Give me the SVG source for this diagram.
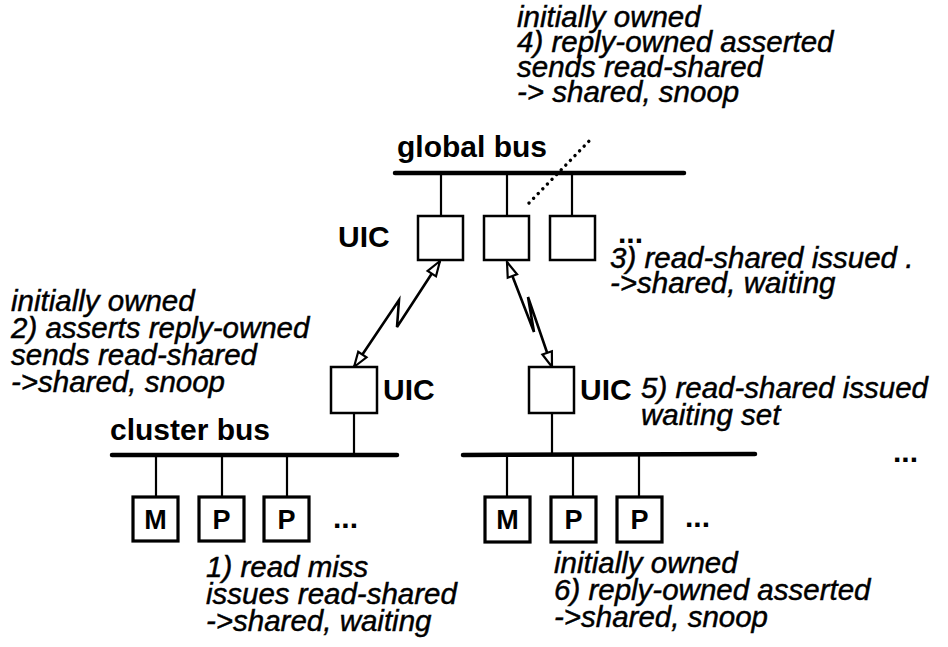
<svg xmlns="http://www.w3.org/2000/svg" width="948" height="647" viewBox="0 0 948 647">
  <style>
    .note { font-family: "Liberation Sans", Arial, Helvetica, sans-serif; font-style: italic; font-size: 29.5px; fill: #000; stroke: #000; stroke-width: 0.45px; }
    .label { font-family: "Liberation Sans", Arial, Helvetica, sans-serif; font-weight: bold; font-size: 30px; fill: #000; }
    .cell { font-family: "Liberation Sans", Arial, Helvetica, sans-serif; font-weight: bold; font-size: 27px; fill: #000; text-anchor: middle; }
    .bus { stroke: #000; stroke-width: 4.5; stroke-linecap: round; fill: none; }
    .drop { stroke: #000; stroke-width: 2.2; fill: none; }
    .uic { fill: #fff; stroke: #000; stroke-width: 2.5; }
    .unit { fill: #fff; stroke: #000; stroke-width: 3.2; }
    .link { stroke: #000; stroke-width: 2.6; fill: none; stroke-linejoin: miter; marker-start: url(#openHead); marker-end: url(#openHead); }
    .probe { stroke: #000; stroke-width: 3.4; stroke-dasharray: 0.1 6.5; stroke-linecap: round; fill: none; }
  </style>
  <defs>
    <marker id="openHead" viewBox="-18 -8 20 16" refX="0" refY="0" markerWidth="20" markerHeight="16" markerUnits="userSpaceOnUse" orient="auto-start-reverse">
      <path d="M0,0 L-15,-5 L-15,5 Z" fill="#fff" stroke="#000" stroke-width="2.2" stroke-linejoin="miter"/>
    </marker>
  </defs>

  <rect width="948" height="647" fill="#fff"/>

  <!-- connectors: buses, drops and the two cluster links -->
  <g id="connectors">
    <line class="bus" x1="395" y1="173" x2="684" y2="173"/>
    <line class="drop" x1="441" y1="173" x2="441" y2="216"/>
    <line class="drop" x1="507" y1="173" x2="507" y2="216"/>
    <line class="drop" x1="572" y1="173" x2="572" y2="216"/>
    <line class="probe" x1="529" y1="203" x2="593" y2="137"/>

    <line class="bus" x1="112" y1="455" x2="397" y2="455"/>
    <line class="bus" x1="463" y1="455" x2="755" y2="454"/>
    <line class="drop" x1="354" y1="413" x2="354" y2="455"/>
    <line class="drop" x1="552" y1="413" x2="552" y2="455"/>

    <line class="drop" x1="156" y1="455" x2="156" y2="497"/>
    <line class="drop" x1="222" y1="455" x2="222" y2="497"/>
    <line class="drop" x1="287" y1="455" x2="287" y2="497"/>
    <line class="drop" x1="507" y1="455" x2="507" y2="497"/>
    <line class="drop" x1="573" y1="455" x2="573" y2="497"/>
    <line class="drop" x1="639" y1="455" x2="639" y2="497"/>

    <polyline class="link" points="440,261 397,327 399,300 354,367"/>
    <polyline class="link" points="507,262 534,332 528,297 552,367"/>
  </g>

  <!-- global bus interface controllers -->
  <g id="uic-global-1"><rect class="uic" x="418" y="216" width="45" height="44"/></g>
  <g id="uic-global-2"><rect class="uic" x="484" y="216" width="45" height="44"/></g>
  <g id="uic-global-3"><rect class="uic" x="550" y="216" width="45" height="44"/></g>

  <!-- cluster bus interface controllers -->
  <g id="uic-cluster-left"><rect class="uic" x="331" y="367" width="46" height="46"/></g>
  <g id="uic-cluster-right"><rect class="uic" x="529" y="367" width="45" height="46"/></g>

  <!-- left cluster: memory and processors -->
  <g id="mem-left"><rect class="unit" x="133" y="497" width="45" height="44"/><text class="cell" x="155.5" y="529">M</text></g>
  <g id="proc-left-1"><rect class="unit" x="199" y="497" width="45" height="44"/><text class="cell" x="221.5" y="529">P</text></g>
  <g id="proc-left-2"><rect class="unit" x="264" y="497" width="45" height="44"/><text class="cell" x="286.5" y="529">P</text></g>

  <!-- right cluster: memory and processors -->
  <g id="mem-right"><rect class="unit" x="485" y="497" width="45" height="45"/><text class="cell" x="507.5" y="529">M</text></g>
  <g id="proc-right-1"><rect class="unit" x="551" y="497" width="45" height="45"/><text class="cell" x="573.5" y="529">P</text></g>
  <g id="proc-right-2"><rect class="unit" x="617" y="497" width="45" height="45"/><text class="cell" x="639.5" y="529">P</text></g>

  <!-- bus and controller labels -->
  <g id="labels">
    <text class="label" x="397" y="157">global bus</text>
    <text class="label" x="338" y="247">UIC</text>
    <text class="label" x="618" y="243">...</text>
    <text class="label" x="383" y="400">UIC</text>
    <text class="label" x="580" y="400">UIC</text>
    <text class="label" x="110" y="440">cluster bus</text>
    <text class="label" x="893" y="462">...</text>
    <text class="label" x="333" y="528">...</text>
    <text class="label" x="685" y="527">...</text>
  </g>

  <!-- protocol step annotations -->
  <g id="note-global">
    <text class="note" x="517" y="27">initially owned</text>
    <text class="note" x="517" y="52">4) reply-owned asserted</text>
    <text class="note" x="517" y="77">sends read-shared</text>
    <text class="note" x="517" y="102">-&gt; shared, snoop</text>
  </g>
  <g id="note-step3">
    <text class="note" x="610" y="268">3) read-shared issued .</text>
    <text class="note" x="610" y="293">-&gt;shared, waiting</text>
  </g>
  <g id="note-step2">
    <text class="note" x="11" y="311">initially owned</text>
    <text class="note" x="11" y="338">2) asserts reply-owned</text>
    <text class="note" x="11" y="365">sends read-shared</text>
    <text class="note" x="11" y="392">-&gt;shared, snoop</text>
  </g>
  <g id="note-step5">
    <text class="note" x="641" y="398">5) read-shared issued</text>
    <text class="note" x="641" y="425">waiting set</text>
  </g>
  <g id="note-step1">
    <text class="note" x="206" y="577">1) read miss</text>
    <text class="note" x="206" y="604">issues read-shared</text>
    <text class="note" x="206" y="631">-&gt;shared, waiting</text>
  </g>
  <g id="note-step6">
    <text class="note" x="554" y="573">initially owned</text>
    <text class="note" x="554" y="600">6) reply-owned asserted</text>
    <text class="note" x="554" y="627">-&gt;shared, snoop</text>
  </g>
</svg>
